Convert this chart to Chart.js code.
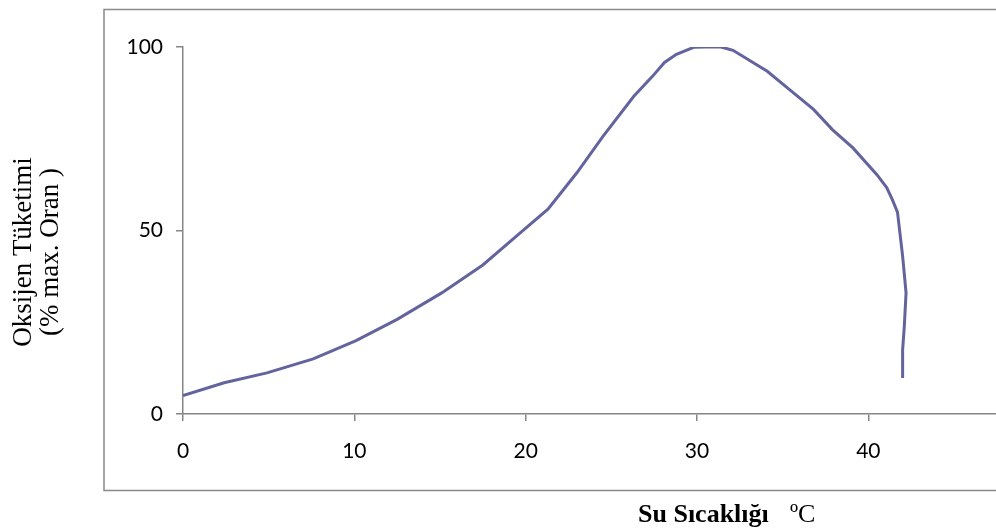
<!DOCTYPE html>
<html>
<head>
<meta charset="utf-8">
<script src="https://cdn.jsdelivr.net/npm/chart.js@4.4.0/dist/chart.umd.min.js"></script>
<style>
  html, body { margin: 0; padding: 0; background: #fff; }
  canvas { display: block; }
</style>
</head>
<body>
<canvas id="chart" width="996" height="530"></canvas>
<script>
// water temperature (°C) and oxygen consumption (% of max)
const temperature = [0, 2.4, 4.9, 7.6, 10.1, 12.5, 15.1, 17.5, 19.8, 21.3, 23.0, 24.5, 26.3, 27.4, 28.1, 28.8, 29.8, 30.5, 31.4, 32.1, 34.1, 35.4, 36.8, 37.9, 39.1, 40.5, 41.07, 41.4, 41.7, 42.0, 42.2, 42.1, 42.0, 42.0];
const oxygen = [5, 8.5, 11.2, 15, 20, 25.8, 33, 40.6, 49.8, 55.8, 65.8, 75.6, 86.5, 92, 95.8, 98, 99.9, 100, 100, 99.1, 93.4, 88.4, 83, 77.5, 72.5, 65.2, 61.7, 58.4, 55, 43, 33, 24, 17.5, 9.8];

const xTicks = [0, 10, 20, 30, 40];
const yTicks = [0, 50, 100];

const yTitle = ['Oksijen Tüketimi', '(% max. Oran )'];
const xTitle = 'Su Sıcaklığı';
const xUnit = 'ºC';

const axisGrey = '#868686';

// outer frame and the two axis titles
const frameAndTitles = {
    id: 'frameAndTitles',
    beforeDraw(chart) {
        const ctx = chart.ctx;
        ctx.save();
        ctx.fillStyle = '#fff';
        ctx.fillRect(0, 0, chart.width, chart.height);
        ctx.strokeStyle = '#8a8a8a';
        ctx.lineWidth = 1.5;
        ctx.strokeRect(104, 9.5, 1000, 481);
        ctx.restore();
    },
    afterDraw(chart) {
        const ctx = chart.ctx;
        ctx.save();
        ctx.fillStyle = '#000';

        // y title, rotated, two lines
        ctx.translate(24, 252);
        ctx.rotate(-Math.PI / 2);
        ctx.font = '27px "Liberation Serif"';
        ctx.textAlign = 'center';
        ctx.textBaseline = 'middle';
        ctx.fillText(yTitle[0], 0, 0);
        ctx.fillText(yTitle[1], 0, 27);
        ctx.setTransform(1, 0, 0, 1, 0, 0);

        // x title: bold label, plain unit
        ctx.textAlign = 'left';
        ctx.textBaseline = 'alphabetic';
        ctx.font = 'bold 26px "Liberation Serif"';
        ctx.fillText(xTitle, 638, 522);
        ctx.font = '26px "Liberation Serif"';
        ctx.fillText(xUnit, 790, 522);
        ctx.restore();
    }
};

new Chart(document.getElementById('chart'), {
    type: 'scatter',
    data: {
        datasets: [{
            data: temperature.map((t, i) => ({ x: t, y: oxygen[i] })),
            showLine: true,
            borderColor: '#63639d',
            borderWidth: 3,
            pointRadius: 0,
            tension: 0,
            fill: false,
        }],
    },
    options: {
        responsive: false,
        devicePixelRatio: 1,
        animation: false,
        layout: { padding: { left: 104, top: 47, right: 0, bottom: 0 } },
        plugins: {
            legend: { display: false },
            tooltip: { enabled: false },
        },
        scales: {
            x: {
                type: 'linear',
                min: 0,
                max: 47.45,
                afterBuildTicks: (s) => { s.ticks = xTicks.map(v => ({ value: v })); },
                afterFit: (s) => { s.height = 116; },
                border: { color: axisGrey, width: 1.5 },
                grid: { drawOnChartArea: false, drawTicks: true, tickLength: 7, color: axisGrey, lineWidth: 1.5 },
                ticks: { color: '#000', padding: 18, maxRotation: 0, font: { family: 'Lato', size: 21 } },
            },
            y: {
                min: 0,
                max: 100,
                afterBuildTicks: (s) => { s.ticks = yTicks.map(v => ({ value: v })); },
                afterFit: (s) => { s.width = 79; },
                border: { color: axisGrey, width: 1.5 },
                grid: { drawOnChartArea: false, drawTicks: true, tickLength: 7, color: axisGrey, lineWidth: 1.5 },
                ticks: { color: '#000', padding: 13, font: { family: 'Lato', size: 21 } },
            },
        },
    },
    plugins: [frameAndTitles],
});
</script>
</body>
</html>
